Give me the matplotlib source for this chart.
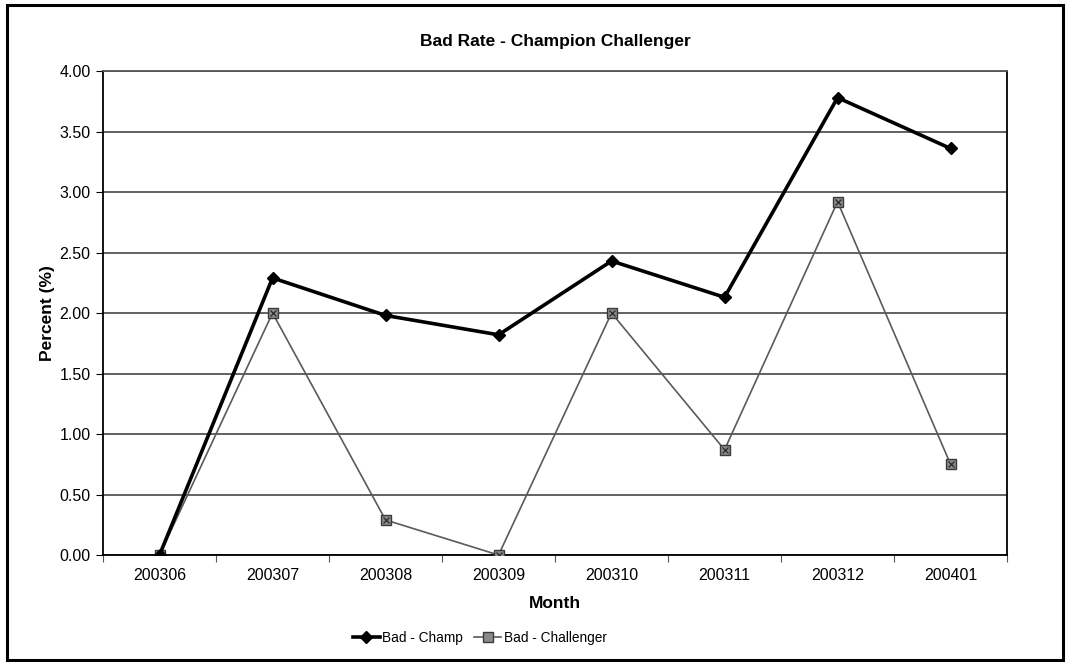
import matplotlib
matplotlib.use("Agg")
import matplotlib.pyplot as plt
from matplotlib.patches import Rectangle
from matplotlib.lines import Line2D
import numpy as np

plt.rcParams['font.family'] = ['Liberation Sans', 'DejaVu Sans']

months = ["200306", "200307", "200308", "200309", "200310", "200311", "200312", "200401"]
bad_champ = [0.00, 2.29, 1.98, 1.82, 2.43, 2.13, 3.78, 3.36]
bad_challenger = [0.00, 2.00, 0.29, 0.00, 2.00, 0.87, 2.92, 0.75]
y_ticks = [0.0, 0.5, 1.0, 1.5, 2.0, 2.5, 3.0, 3.5, 4.0]

fig = plt.figure(figsize=(10.71, 6.62), dpi=100)
ax = fig.add_axes([0.0962, 0.1616, 0.8441, 0.7311])

x = np.arange(len(months))
ax.plot(x, bad_champ, color='black', lw=2.6, marker='D', ms=6.5,
        mfc='black', mec='black', label='Bad - Champ', zorder=4)
ax.plot(x, bad_challenger, color='#5a5a5a', lw=1.2,
        marker='s', ms=7, mfc='#8a8a8a', mec='#3a3a3a', mew=1.0,
        label='Bad - Challenger', zorder=3)
# cross-hatch texture on the challenger markers
ax.plot(x, bad_challenger, ls='none', marker='x', ms=5, mec='#2a2a2a',
        mew=0.9, zorder=3.5)

ax.set_xlim(-0.5, len(months) - 0.5)
ax.set_ylim(0, 4.0)
ax.set_yticks(y_ticks)
ax.set_yticklabels([f"{v:.2f}" for v in y_ticks])
ax.set_xticks(x)
ax.set_xticklabels(months)
ax.set_xticks(np.arange(-0.5, len(months), 1.0), minor=True)
ax.tick_params(axis='x', which='major', length=0, pad=9, labelsize=11.5)
ax.tick_params(axis='x', which='minor', length=5, width=0.8, direction='out', color='#555555')
ax.tick_params(axis='y', length=5, width=0.8, direction='out', pad=4, labelsize=11.5)

ax.grid(axis='y', color='#555555', lw=1.3)
ax.set_axisbelow(True)
for side in ('left', 'right', 'bottom'):
    ax.spines[side].set_color('black')
    ax.spines[side].set_linewidth(1.3)
ax.spines['top'].set_color('#555555')
ax.spines['top'].set_linewidth(1.3)

ax.set_title('Bad Rate - Champion Challenger', fontsize=12.5, fontweight='bold', pad=18)
ax.set_xlabel('Month', fontsize=12.5, fontweight='bold', labelpad=10)
ax.set_ylabel('Percent (%)', fontsize=12.5, fontweight='bold', labelpad=3)

handles = [
    Line2D([], [], color='black', lw=2.6, marker='D', ms=6.5, mfc='black', mec='black'),
    Line2D([], [], color='#5a5a5a', lw=1.2, marker='s', ms=7, mfc='#8a8a8a', mec='#3a3a3a'),
]
fig.legend(handles, ['Bad - Champ', 'Bad - Challenger'], loc='center',
           bbox_to_anchor=(0.448, 0.036), ncol=2, frameon=False,
           fontsize=9.8, handlelength=2.0, handletextpad=0.2, columnspacing=0.8)

fig.patches.append(Rectangle((7 / 1071, 2 / 662), 1056 / 1071, 655 / 662,
                             transform=fig.transFigure, fill=False,
                             edgecolor='black', lw=2.2))

fig.savefig('out.png', dpi=100, facecolor='white')
